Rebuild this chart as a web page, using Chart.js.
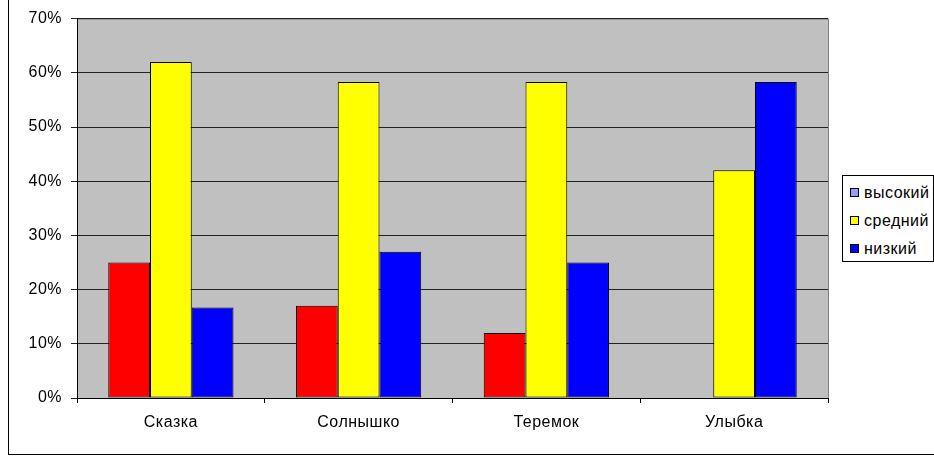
<!DOCTYPE html>
<html>
<head>
<meta charset="utf-8">
<script src="https://cdn.jsdelivr.net/npm/chart.js@4/dist/chart.umd.min.js"></script>
<style>
  html, body { margin: 0; padding: 0; background: #fff; overflow: hidden; }
  #wrap { position: relative; width: 934px; height: 457px; }
  #frame { position: absolute; left: 8px; top: -2px; width: 940px; height: 457px; border: 1px solid #000; box-sizing: border-box; }
  #chart { position: absolute; left: 0; top: 0; }
  #legend { position: absolute; left: 842px; top: 175px; width: 92px; height: 87px; border: 1px solid #000; box-sizing: border-box;
            font: 16px "Liberation Sans", Arial, sans-serif; letter-spacing: 0.5px; color: #000; background: #fff; }
  #legend div { position: absolute; left: 7px; height: 18px; line-height: 18px; white-space: nowrap; }
  #legend span { display: inline-block; width: 7px; height: 7px; border: 1px solid #000; margin-right: 5px; vertical-align: 1px; }
</style>
</head>
<body>
<div id="wrap">
  <div id="frame"></div>
  <canvas id="chart" width="934" height="457"></canvas>
  <div id="legend"></div>
</div>
<script>
// categories and series (percent)
const categories = ['Сказка', 'Солнышко', 'Теремок', 'Улыбка'];
const seriesNames = ['высокий', 'средний', 'низкий'];
const vysokiy = [25, 17, 12, 0];
const sredniy = [62, 58.3, 58.3, 42];
const nizkiy  = [16.7, 27, 25, 58.3];
const yTicks  = [0, 10, 20, 30, 40, 50, 60, 70];

const barColors    = ['#FF0000', '#FFFF00', '#0000FF'];
const legendColors = ['#9999FF', '#FFFF00', '#0000FF'];

// legend (html, like the excel box on the right)
const legend = document.getElementById('legend');
seriesNames.forEach((name, i) => {
  const row = document.createElement('div');
  row.style.top = (8 + i * 28) + 'px';
  row.innerHTML = '<span style="background:' + legendColors[i] + '"></span>' + name;
  legend.appendChild(row);
});

// gray plot area behind bars, slightly wider text like the GDI rendering
const plotBg = {
  id: 'plotBg',
  beforeDraw(chart) {
    const { ctx, chartArea: a } = chart;
    ctx.save();
    ctx.fillStyle = '#C0C0C0';
    ctx.fillRect(a.left, a.top, a.right - a.left, a.bottom - a.top);
    ctx.strokeStyle = '#808080';
    ctx.lineWidth = 1;
    ctx.strokeRect(a.left + 0.5, a.top + 0.5, a.right - a.left, a.bottom - a.top);
    ctx.restore();
    ctx.letterSpacing = '0.5px';
  }
};

const font = { family: '"Liberation Sans", Arial, sans-serif', size: 16 };

new Chart(document.getElementById('chart').getContext('2d'), {
  type: 'bar',
  data: {
    labels: categories,
    datasets: [vysokiy, sredniy, nizkiy].map((d, i) => ({
      label: seriesNames[i],
      data: d,
      backgroundColor: barColors[i],
      borderColor: '#000',
      borderWidth: 1,
      borderSkipped: false,
      barPercentage: 1,
      categoryPercentage: 0.667,
    })),
  },
  options: {
    responsive: false,
    animation: false,
    layout: { padding: { left: 10, top: 18, right: 106, bottom: 0 } },
    plugins: {
      legend: { display: false },
      tooltip: { enabled: false },
    },
    scales: {
      x: {
        afterFit: s => { s.height = 59; },
        grid: { drawOnChartArea: false, drawTicks: true, tickLength: 5, color: '#000', offset: true },
        border: { color: '#000', width: 1 },
        ticks: { color: '#000', font, padding: 10 },
      },
      y: {
        min: 0,
        max: 70,
        afterFit: s => { s.width = 67; },
        afterBuildTicks: s => { s.ticks = yTicks.map(v => ({ value: v })); },
        grid: { color: '#222', tickLength: 6, lineWidth: 1 },
        border: { color: '#000', width: 1 },
        ticks: { color: '#000', font, padding: 9, callback: v => v + '%' },
      },
    },
  },
  plugins: [plotBg],
});
</script>
</body>
</html>
